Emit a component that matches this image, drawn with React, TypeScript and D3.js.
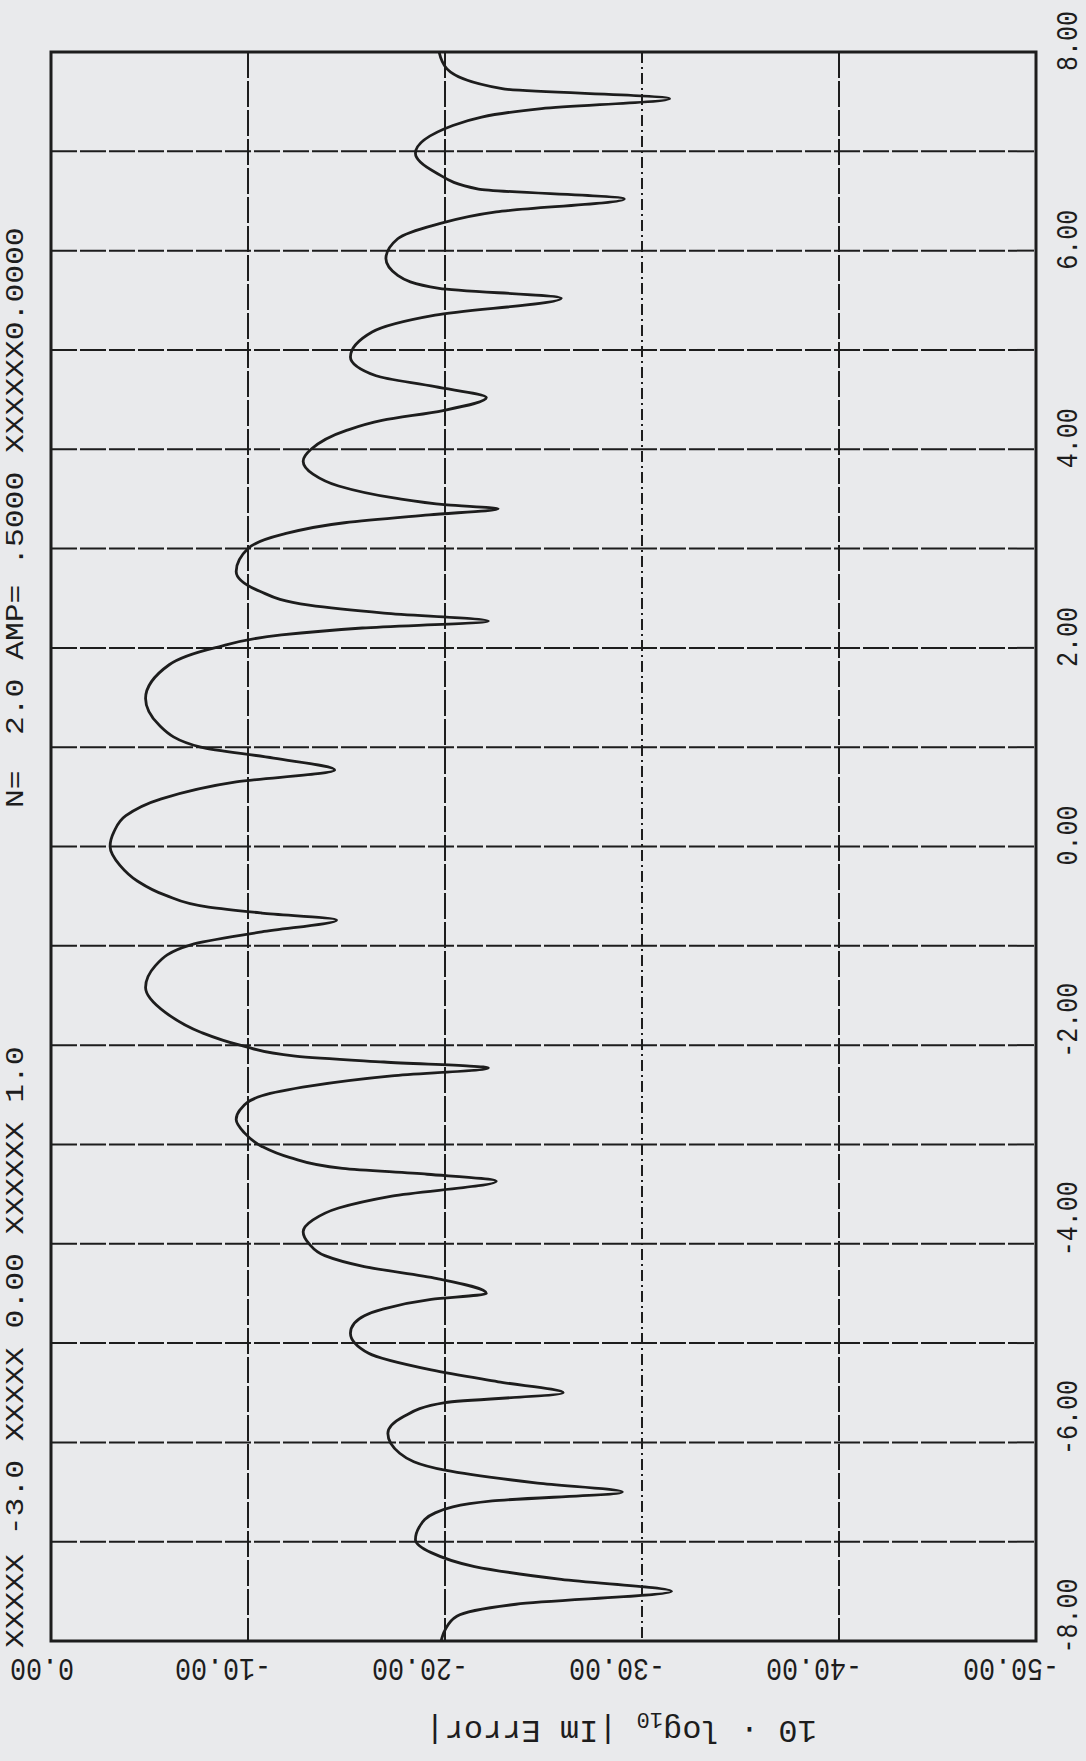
import React from 'react';
import * as d3 from 'd3';

// x position (horizontal axis of the original plot) and 10*log10|Im Error|
const xVals = [
  8.0, 7.83, 7.63, 7.53, 7.43, 7.26, 6.98, 6.79, 6.62, 6.52, 6.39, 6.26, 6.12, 5.92, 5.75, 5.62,
  5.52, 5.35, 5.18, 4.93, 4.74, 4.63, 4.52, 4.39, 4.29, 4.19, 4.0, 3.88, 3.75, 3.63, 3.51, 3.44,
  3.4, 3.34, 3.26, 3.14, 3.0, 2.77, 2.57, 2.43, 2.35, 2.27, 2.2, 2.13, 2.0, 1.83, 1.49, 1.22,
  1.0, 0.89, 0.77, 0.65, 0.48, 0.31, 0.15, 0.0, -0.19, -0.35, -0.49, -0.61, -0.67, -0.74, -0.86,
  -0.99, -1.2, -1.42, -1.67, -1.87, -2.0, -2.11, -2.17, -2.23, -2.31, -2.41, -2.51, -2.65, -2.75,
  -2.88, -3.02, -3.13, -3.24, -3.3, -3.37, -3.52, -3.64, -3.76, -3.88, -4.0, -4.12, -4.23, -4.35,
  -4.5, -4.56, -4.66, -4.8, -4.9, -5.1, -5.27, -5.39, -5.5, -5.6, -5.74, -5.91, -6.11, -6.28,
  -6.41, -6.5, -6.59, -6.71, -6.85, -6.98, -7.11, -7.25, -7.38, -7.5, -7.63, -7.75, -7.89, -8.0,
];
const dbVals = [
  -19.7, -20.1, -22.9, -31.4, -24.9, -20.4, -18.5, -19.5, -21.7, -29.1, -22.6, -19.5, -17.6, -17.0,
  -17.6, -19.7, -25.9, -19.5, -16.3, -15.2, -16.5, -19.5, -22.1, -19.9, -16.8, -15.0, -13.2, -12.8,
  -13.3, -14.6, -17.4, -20.1, -22.7, -19.2, -14.9, -11.7, -10.0, -9.4, -10.6, -13.1, -16.9, -22.2,
  -15.8, -11.7, -8.3, -6.0, -4.8, -5.5, -7.6, -11.3, -14.4, -9.4, -5.6, -3.8, -3.2, -3.0, -3.5,
  -4.4, -5.8, -8.0, -10.7, -14.5, -10.7, -7.1, -5.3, -4.8, -5.8, -7.6, -9.6, -12.4, -16.9, -22.2,
  -17.3, -13.2, -10.7, -9.6, -9.4, -9.8, -10.7, -12.1, -14.8, -19.1, -22.6, -17.3, -14.6, -13.3,
  -12.8, -13.1, -13.9, -15.9, -19.6, -22.1, -19.3, -16.8, -15.4, -15.2, -16.1, -19.3, -22.7, -26.0,
  -20.0, -17.9, -17.1, -17.7, -20.0, -24.7, -29.0, -22.4, -19.5, -18.7, -18.5, -19.3, -21.5, -25.9,
  -31.5, -23.6, -20.6, -20.0, -19.8,
];

const xTicks = [8, 6, 4, 2, 0, -2, -4, -6, -8];
const xTickLabels = ['8.00', '6.00', '4.00', '2.00', '0.00', '-2.00', '-4.00', '-6.00', '-8.00'];
const xGrid = [7, 6, 5, 4, 3, 2, 1, 0, -1, -2, -3, -4, -5, -6, -7];
const yTicks = [0, -10, -20, -30, -40, -50];
const yTickLabels = ['0.00', '-10.00', '-20.00', '-30.00', '-40.00', '-50.00'];
const yGrid = [-10, -20, -30, -40];
const titleA = 'XXXXX -3.0 XXXXX 0.00 XXXXXX 1.0';
const titleN = 'N=';
const titleB = '2.0 AMP= .5000 XXXXXX0.0000';

const W = 1086;
const H = 1761;
const INK = '#1d1d1d';
const PAPER = '#e9eaec';
const MONO = '"Liberation Mono", "DejaVu Sans Mono", monospace';

export default function App() {
  // the scanned page is rotated: x runs bottom -> top, dB runs left -> right
  const xs = d3.scaleLinear().domain([8, -8]).range([52, 1641]);
  const ys = d3.scaleLinear().domain([0, -50]).range([51, 1036]);

  const pts = xVals.map((x, i) => ({ x, db: dbVals[i] }));
  const line = d3
    .line<{ x: number; db: number }>()
    .x((d) => ys(d.db))
    .y((d) => xs(d.x))
    .curve(d3.curveMonotoneY);

  const [top, bottom] = xs.range();
  const [left, right] = ys.range();

  return (
    <svg
      width={W}
      height={H}
      style={{ position: 'absolute', left: 0, top: 0, display: 'block' }}
    >
      <rect x={0} y={0} width={W} height={H} fill={PAPER} />

      {/* grid */}
      <g stroke={INK} strokeWidth={2} fill="none">
        {xGrid.map((v) => (
          <line key={'h' + v} x1={left} x2={right} y1={xs(v)} y2={xs(v)} strokeDasharray="26,3" />
        ))}
        {yGrid.map((v) => (
          <line
            key={'v' + v}
            x1={ys(v)}
            x2={ys(v)}
            y1={top}
            y2={bottom}
            strokeDasharray={v === -30 ? '11,4,2,4' : '26,3'}
          />
        ))}
      </g>

      {/* frame */}
      <rect
        x={left}
        y={top}
        width={right - left}
        height={bottom - top}
        fill="none"
        stroke={INK}
        strokeWidth={3}
      />

      {/* curve */}
      <path d={line(pts) ?? ''} fill="none" stroke={INK} strokeWidth={2.8} strokeLinejoin="round" />

      {/* x tick labels (right side, reading upward) */}
      <g fill={INK} fontFamily={MONO} fontSize={30}>
        {xTicks.map((v, i) => {
          const lab = xTickLabels[i];
          const cy = xs(v) - (v < 0 ? 25 : 11);
          return (
            <text
              key={'xt' + v}
              transform={`translate(1077,${cy}) rotate(-90)`}
              textAnchor="middle"
              textLength={lab.length * 15}
              lengthAdjust="spacingAndGlyphs"
            >
              {lab}
            </text>
          );
        })}
      </g>

      {/* dB tick labels (bottom, upside down) */}
      <g fill={INK} fontFamily={MONO} fontSize={31}>
        {yTicks.map((v, i) => {
          const lab = yTickLabels[i];
          return (
            <text
              key={'yt' + v}
              transform={`translate(${ys(v) + 23},1659) rotate(180)`}
              textAnchor="start"
              textLength={lab.length * 16}
              lengthAdjust="spacingAndGlyphs"
            >
              {lab}
            </text>
          );
        })}
      </g>

      {/* axis title, upside down */}
      <text
        transform="translate(621,1721) rotate(180)"
        textAnchor="middle"
        fill={INK}
        fontFamily={MONO}
        fontSize={32}
      >
        10 · log
        <tspan fontSize={22} dy={8}>10</tspan>
        <tspan dy={-8}> |Im Error|</tspan>
      </text>

      {/* header line along the page edge */}
      <g fill={INK} fontFamily={MONO} fontSize={25}>
        <text
          transform="translate(23,1648) rotate(-90)"
          textLength={titleA.length * 18.8}
          lengthAdjust="spacingAndGlyphs"
        >
          {titleA}
        </text>
        <text
          transform="translate(23,808) rotate(-90)"
          textLength={titleN.length * 18.8}
          lengthAdjust="spacingAndGlyphs"
        >
          {titleN}
        </text>
        <text
          transform="translate(23,735) rotate(-90)"
          textLength={titleB.length * 18.8}
          lengthAdjust="spacingAndGlyphs"
        >
          {titleB}
        </text>
      </g>
    </svg>
  );
}
